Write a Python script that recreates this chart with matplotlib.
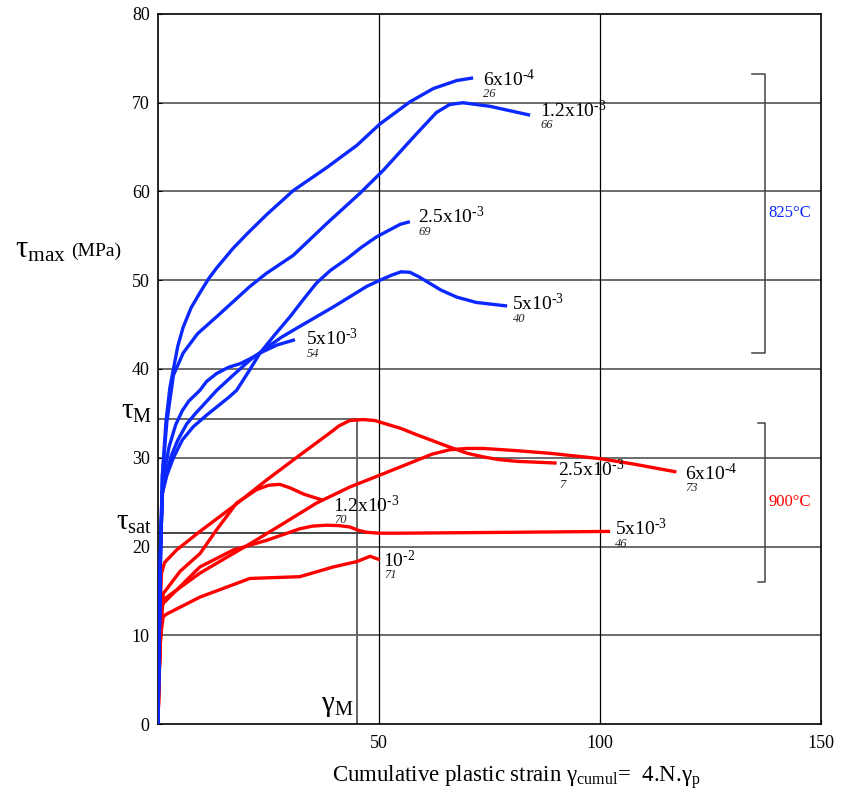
import numpy as np
import matplotlib
matplotlib.use("Agg")
import matplotlib.pyplot as plt

plt.rcParams['font.family'] = ['Liberation Serif', 'DejaVu Serif']
plt.rcParams['mathtext.fontset'] = 'custom'
plt.rcParams['mathtext.rm'] = 'Liberation Serif'
plt.rcParams['mathtext.it'] = 'Liberation Serif:italic'
plt.rcParams['mathtext.bf'] = 'Liberation Serif:bold'

BLUE = '#0a28ff'
RED = '#ff0000'

# 825 C curves (blue) : strain, tau_max
b_6e4_x = [0, 0.3, 0.6, 1.0, 1.8, 2.7, 3.5, 4.5, 5.7, 7.5, 9.5, 11.5, 13.3, 17, 20.5, 24.6, 30.6, 38.2, 45, 50.2, 57, 62.3, 67.6, 71.3]
b_6e4_y = [0, 10, 20, 28, 34, 37.9, 40.0, 42.6, 44.7, 46.9, 48.6, 50.2, 51.4, 53.6, 55.4, 57.4, 60.1, 62.7, 65.2, 67.6, 70.1, 71.6, 72.5, 72.8]
b_12e3_x = [0, 0.3, 0.6, 1.0, 2.0, 3.5, 5.7, 9, 13.3, 20.8, 24.6, 30.6, 38.2, 45.7, 51, 58.5, 63, 66, 69, 75.1, 84.2]
b_12e3_y = [0, 10, 20, 28, 34, 39.3, 41.8, 44.0, 45.9, 49.3, 50.8, 52.8, 56.4, 59.8, 62.4, 66.5, 68.9, 69.8, 70.0, 69.6, 68.6]
b_25e3_x = [0, 0.3, 0.6, 1.0, 2.0, 3.5, 5.5, 8, 11, 14, 16, 17.8, 20.5, 23.1, 26.5, 29.9, 33, 35.9, 39, 42.7, 46, 49.5, 54.8, 57]
b_25e3_y = [0, 10, 20, 26, 28, 30, 32, 33.5, 34.8, 36.0, 36.8, 37.6, 39.7, 41.8, 43.9, 45.9, 47.9, 49.7, 51.1, 52.4, 53.7, 54.9, 56.3, 56.6]
b_5e3a_x = [0, 0.3, 0.6, 1.0, 1.8, 3, 4.5, 6.5, 8.5, 10, 13.3, 17, 20.8, 24.6, 28, 32.1, 39.7, 47.2, 50.2, 53, 55, 57, 59, 61, 64, 67.6, 72, 79]
b_5e3a_y = [0, 10, 20, 26, 28, 30.2, 32, 33.8, 35, 35.8, 37.6, 39.3, 41.0, 42.4, 43.6, 44.8, 47.0, 49.3, 50.0, 50.6, 50.95, 50.9, 50.4, 49.8, 48.9, 48.1, 47.5, 47.1]
b_5e3b_x = [0, 0.3, 0.6, 1.0, 1.5, 2.5, 4, 5.5, 7, 9.5, 11, 13.3, 16, 18.6, 21, 23.1, 26.9, 31]
b_5e3b_y = [0, 10, 20, 26, 28.5, 31.2, 33.7, 35.3, 36.4, 37.6, 38.6, 39.5, 40.2, 40.6, 41.2, 41.8, 42.7, 43.3]

# 900 C curves (red)
r_25e3_x = [0, 0.2, 0.5, 0.8, 1.5, 4.2, 9.5, 17, 24.6, 32.1, 38.9, 41, 43.4, 46.5, 49, 51, 55, 58.5, 66, 70, 73.6, 77, 81.1, 90.2]
r_25e3_y = [0, 8, 13, 17, 18.2, 19.6, 21.7, 24.5, 27.5, 30.3, 32.8, 33.6, 34.2, 34.3, 34.2, 33.9, 33.3, 32.6, 31.2, 30.5, 30.1, 29.8, 29.6, 29.4]
r_12e3_x = [0, 0.3, 0.6, 0.9, 1.2, 5, 9.5, 13.3, 17.8, 22.3, 25, 27.6, 29.9, 33, 37.4]
r_12e3_y = [0, 6, 10, 13, 14.7, 17.2, 19.2, 21.9, 24.9, 26.4, 26.9, 27.0, 26.6, 25.9, 25.2]
r_6e4_x = [0, 0.3, 0.6, 0.9, 1.2, 9.5, 17, 20.8, 28.4, 35.9, 43.4, 51, 58.5, 62, 66, 70, 73.6, 81.1, 88.7, 100, 107.5, 117.3]
r_6e4_y = [0, 6, 10, 13, 14.0, 17.0, 19.2, 20.3, 22.6, 24.9, 26.7, 28.2, 29.7, 30.4, 30.9, 31.05, 31.05, 30.8, 30.5, 29.9, 29.3, 28.4]
r_5e3_x = [0, 0.3, 0.6, 0.9, 1.2, 9.5, 17, 24.6, 32.1, 35, 38.2, 41, 43.4, 45.5, 47.2, 50, 54.8, 80, 102.3]
r_5e3_y = [0, 6, 10, 13, 13.6, 17.7, 19.6, 20.7, 22.0, 22.3, 22.4, 22.35, 22.2, 21.8, 21.6, 21.5, 21.5, 21.6, 21.7]
r_1e2_x = [0, 0.3, 0.6, 1.2, 2.0, 9.5, 20.8, 32.1, 39.7, 45, 48, 50.2]
r_1e2_y = [0, 6, 10, 12.1, 12.4, 14.3, 16.4, 16.6, 17.7, 18.3, 18.9, 18.5]

# curve labels: text, exponent, specimen id, x, y
blue_labels = [('6x10', '-4', '26', 73.5, 71.9), ('1.2x10', '-3', '66', 86.4, 68.4),
               ('2.5x10', '-3', '69', 58.9, 56.4), ('5x10', '-3', '40', 80.2, 46.6),
               ('5x10', '-3', '54', 33.6, 42.7)]
red_labels = [('1.2x10', '-3', '70', 39.7, 23.9), ('2.5x10', '-3', '7', 90.6, 27.9),
              ('6x10', '-4', '73', 119.2, 27.5), ('5x10', '-3', '46', 103.4, 21.3),
              ('10', '-2', '71', 51.0, 17.7)]

tau_M = 34.4
tau_sat = 21.5
gamma_M = 45

fig = plt.figure(figsize=(8.42, 7.95), dpi=100)
ax = fig.add_axes([0.1876, 0.0893, 0.7874, 0.8931])
ax.set_xlim(0, 150)
ax.set_ylim(0, 80)

for yv in range(10, 80, 10):
    ax.axhline(yv, color='#444444', lw=1.1, zorder=1)
for xv in [50, 100]:
    ax.axvline(xv, color='black', lw=0.9, zorder=1)

ax.plot([0, 46.5], [tau_M, tau_M], color='#666666', lw=1.4, zorder=1)
ax.plot([gamma_M, gamma_M], [0, tau_M], color='#666666', lw=1.4, zorder=1)
ax.plot([0, 54.8], [tau_sat, tau_sat], color='#444444', lw=1.4, zorder=1)

kw = dict(lw=2.4, solid_joinstyle='round', solid_capstyle='butt')
for xs, ys in [(r_25e3_x, r_25e3_y), (r_12e3_x, r_12e3_y), (r_6e4_x, r_6e4_y),
               (r_5e3_x, r_5e3_y), (r_1e2_x, r_1e2_y)]:
    ax.plot(xs, ys, color=RED, zorder=3, **kw)
for xs, ys in [(b_6e4_x, b_6e4_y), (b_12e3_x, b_12e3_y), (b_25e3_x, b_25e3_y),
               (b_5e3a_x, b_5e3a_y), (b_5e3b_x, b_5e3b_y)]:
    ax.plot(xs, ys, color=BLUE, zorder=4, **kw)

for txt, ex, sid, x, y in blue_labels + red_labels:
    ax.text(x, y, txt + r'$^{\mathrm{' + ex.replace('-', '\u2010') + '}}$', fontsize=14,
            ha='left', va='baseline', zorder=5)
    ax.text(x + 0.1, y - 1.3, sid, fontsize=9, style='italic', ha='left', va='baseline',
            color='#222222', zorder=5)

# temperature brackets
ax.plot([134.4, 137.4, 137.4, 134.4], [73.2, 73.2, 41.8, 41.8], color='#444444', lw=1.1)
ax.plot([135.7, 137.4, 137.4, 135.7], [33.9, 33.9, 16.0, 16.0], color='#444444', lw=1.1)
ax.text(138.2, 57.6, '825°C', color=BLUE, fontsize=12, va='center', ha='left')
ax.text(138.2, 25.0, '900°C', color=RED, fontsize=12, va='center', ha='left')

ax.set_xticks([50, 100, 150])
ax.set_yticks(range(0, 90, 10))
ax.tick_params(direction='in', length=3, width=0.8, labelsize=13, pad=8)
ax.tick_params(axis='y', pad=6)
for s in ax.spines.values():
    s.set_linewidth(1.2)

ax.text(-1.3, 35.2, r'$\mathrm{τ_{M}}$', fontsize=21, ha='right', va='center')
ax.text(-1.3, 22.6, r'$\mathrm{τ_{sat}}$', fontsize=21, ha='right', va='center')
ax.text(40.5, 0.6, r'$\mathrm{γ_{M}}$', fontsize=21, ha='center', va='bottom')

fig.text(0.018, 0.686, r'$\mathrm{τ_{max}}$', fontsize=22, ha='left', va='center')
fig.text(0.084, 0.684, '(MPa)', fontsize=14, ha='left', va='center')
fig.text(0.613, 0.017, r'Cumulative plastic strain $\mathrm{γ_{cumul}}$=  4.N.$\mathrm{γ_{p}}$',
         fontsize=16.5, ha='center', va='baseline')

fig.savefig('out.png', dpi=100)
